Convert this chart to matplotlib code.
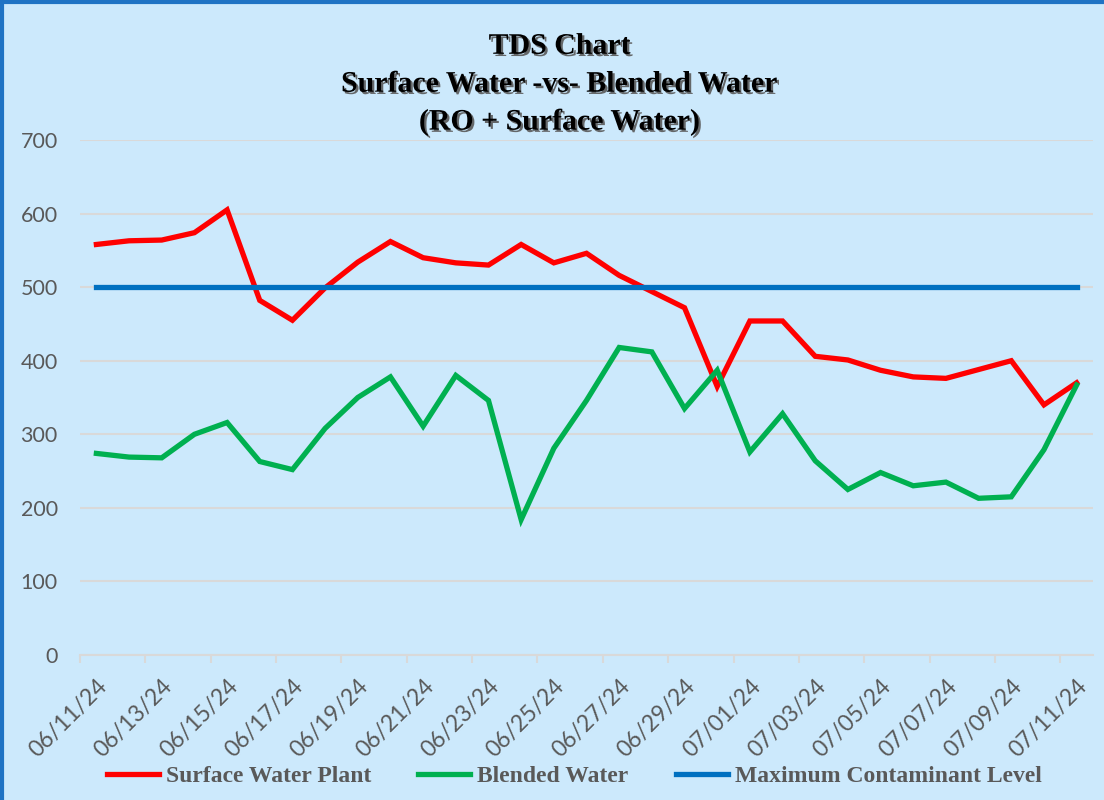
# TDS chart: surface water vs blended water
import numpy as np
import matplotlib
matplotlib.use("Agg")
import matplotlib.pyplot as plt
import matplotlib.patheffects as pe
from matplotlib.lines import Line2D

# data
dates = ['06/11/24', '06/12/24', '06/13/24', '06/14/24', '06/15/24', '06/16/24',
         '06/17/24', '06/18/24', '06/19/24', '06/20/24', '06/21/24', '06/22/24',
         '06/23/24', '06/24/24', '06/25/24', '06/26/24', '06/27/24', '06/28/24',
         '06/29/24', '06/30/24', '07/01/24', '07/02/24', '07/03/24', '07/04/24',
         '07/05/24', '07/06/24', '07/07/24', '07/08/24', '07/09/24', '07/10/24',
         '07/11/24']
surface = [558, 563, 564, 574, 605, 482, 455, 499, 534, 562, 540, 533, 530, 558,
           533, 546, 516, 494, 472, 365, 454, 454, 406, 401, 387, 378, 376, 388,
           400, 340, 370]
blended = [274, 269, 268, 300, 316, 263, 252, 308, 350, 378, 311, 380, 346, 184,
           281, 346, 418, 412, 335, 387, 276, 328, 264, 225, 248, 230, 235, 213,
           215, 279, 367]
mcl = [500] * len(dates)

bg = '#CCE9FC'
grey = '#595959'
grid = '#D9D9D9'

fig = plt.figure(figsize=(11.04, 8), dpi=100, facecolor=bg)
ax = fig.add_axes([0.0725, 0.18125, 0.9175, 0.64375])
ax.set_facecolor(bg)

x = np.arange(len(dates))
ax.plot(x, surface, color='#FF0000', lw=3.8, label='Surface Water Plant', solid_joinstyle='miter')
ax.plot(x, blended, color='#00B050', lw=3.8, label='Blended Water', solid_joinstyle='miter')
ax.plot(x, mcl, color='#0070C0', lw=3.8, label='Maximum Contaminant Level')

ax.set_xlim(-0.5, len(dates) - 0.5)
ax.set_ylim(0, 700)
ax.set_yticks(range(0, 701, 100))
ax.yaxis.grid(True, color=grid, lw=1.5)
ax.set_axisbelow(True)
for s in ['top', 'right', 'left']:
    ax.spines[s].set_visible(False)
ax.spines['bottom'].set_color(grid)
ax.spines['bottom'].set_linewidth(1.5)

ax.tick_params(axis='y', length=0, pad=16, labelsize=15.5, labelcolor=grey)
for t in ax.get_yticklabels():
    t.set_family('Lato')

# labels every other day, tick marks between categories
ax.set_xticks(x[::2])
ax.set_xticklabels(dates[::2], rotation=45, ha='right', va='top',
                   rotation_mode='anchor', family='Lato', fontsize=16.5,
                   color=grey)
ax.tick_params(axis='x', which='major', length=0, pad=15)
ax.set_xticks(np.arange(-0.5, len(dates), 2), minor=True)
ax.tick_params(axis='x', which='minor', length=6, width=1.5, color=grid)

shadow = [pe.SimplePatchShadow(offset=(1.6, -1.6), shadow_rgbFace='0.35', alpha=0.9),
          pe.Normal()]
fig.text(0.507, 0.959, 'TDS Chart\nSurface Water -vs- Blended Water\n(RO + Surface Water)',
         ha='center', va='top', fontsize=21.5, fontweight='bold',
         family='Liberation Serif', linespacing=1.52, path_effects=shadow)

leg = fig.legend(loc='center', bbox_to_anchor=(0.52, 0.03), ncol=3, frameon=False,
                 handlelength=2.2, columnspacing=2.0, handletextpad=0.3,
                 prop={'family': 'Liberation Serif', 'weight': 'bold', 'size': 17})
for t in leg.get_texts():
    t.set_color(grey)

# blue frame on the left and top
fig.add_artist(Line2D([0.002, 0.002], [0, 0.997], color='#1F73C4', lw=3))
fig.add_artist(Line2D([0.002, 1], [0.997, 0.997], color='#1F73C4', lw=3))

plt.savefig('out.png', dpi=100, facecolor=bg)
